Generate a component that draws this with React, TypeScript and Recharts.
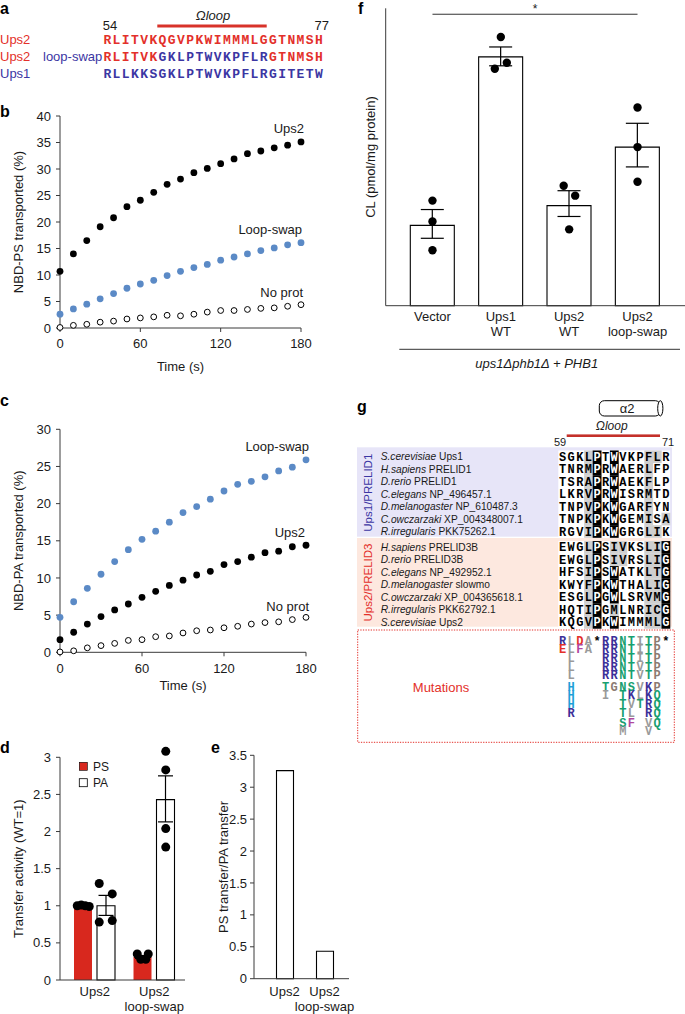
import React from 'react';
import {
  ScatterChart, Scatter, XAxis, YAxis, ComposedChart, BarChart, Bar, ErrorBar,
  ReferenceDot, ReferenceLine,
} from 'recharts';

// ---------------- data ----------------
const TIME = [0, 10, 20, 30, 40, 50, 60, 70, 80, 90, 100, 110, 120, 130, 140, 150, 160, 170, 180];
const PS_UPS2 = [10.7, 14.0, 16.5, 19.1, 20.8, 22.9, 24.1, 25.6, 27.1, 28.1, 29.3, 30.1, 31.0, 31.9, 32.9, 33.4, 34.0, 34.5, 35.1];
const PS_LOOP = [2.6, 3.6, 4.5, 5.5, 6.5, 7.5, 8.3, 9.0, 9.9, 10.7, 11.4, 12.0, 12.8, 13.4, 14.0, 14.6, 15.1, 15.7, 16.1];
const PS_NOPROT = [0.1, 0.5, 0.7, 1.1, 1.3, 1.7, 1.9, 2.1, 2.4, 2.3, 2.6, 3.0, 3.3, 3.3, 3.5, 3.7, 3.8, 4.1, 4.4];
const PA_LOOP = [4.7, 6.8, 8.6, 10.5, 12.2, 13.8, 15.2, 16.3, 17.5, 18.8, 19.6, 20.6, 21.7, 22.6, 23.0, 23.6, 24.4, 24.9, 25.9];
const PA_UPS2 = [1.7, 2.7, 3.8, 4.8, 5.7, 6.5, 7.4, 8.2, 9.0, 9.7, 10.4, 10.9, 11.8, 12.2, 12.8, 13.4, 13.6, 14.2, 14.4];
const PA_NOPROT = [0.05, 0.2, 0.6, 0.9, 1.2, 1.6, 1.7, 2.1, 2.2, 2.6, 2.9, 3.0, 3.3, 3.5, 3.8, 4.0, 4.1, 4.4, 4.7];
const B_TICKS_Y = [0, 5, 10, 15, 20, 25, 30, 35, 40];
const C_TICKS_Y = [0, 5, 10, 15, 20, 25, 30];
const TIME_TICKS = [0, 60, 120, 180];

const D_CATEGORIES = ['Ups2', 'Ups2\nloop-swap'];
const D_PS_MEAN = [1.0, 0.31];
const D_PA_MEAN = [1.0, 2.43];
const D_PS_ERR = [[0.01, 0.01], [0.02, 0.02]];
const D_PA_ERR = [[0.13, 0.14], [0.30, 0.32]];
const D_PS_REPS = [[1.0, 1.01, 1.0, 0.99], [0.35, 0.35, 0.28, 0.28]];
const D_PA_REPS = [[1.30, 1.16, 0.78, 0.80], [3.08, 2.83, 2.04, 1.79]];
const D_TICKS_Y = [0, 0.5, 1, 1.5, 2, 2.5, 3];

const E_CATEGORIES = ['Ups2', 'Ups2\nloop-swap'];
const E_RATIO = [3.26, 0.43];
const E_TICKS_Y = [0, 0.5, 1, 1.5, 2, 2.5, 3, 3.5];

const F_CATEGORIES = ['Vector', 'Ups1\nWT', 'Ups2\nWT', 'Ups2\nloop-swap'];
const F_MEAN = [0.81, 2.51, 1.01, 1.60];
const F_ERR = [[0.13, 0.16], [0.09, 0.10], [0.11, 0.15], [0.20, 0.24]];
const F_REPS = [[1.06, 0.85, 0.56], [2.71, 2.45, 2.39], [1.21, 1.11, 0.77], [2.00, 1.60, 1.25]];
const F_SIG_Y = 2.94;

const A_SEQS = ['RLITVKQGVPKWIMMMLGGTNMSH', 'RLITVKGKLPTWVKPFLRGTNMSH', 'RLLKKSGKLPTWVKPFLRGITETW'];
const A_SEQ_COLORS = ['RRRRRRRRRRRRRRRRRRRRRRRR', 'RRRRRRBBBBBBBBBBBBRRRRRR', 'BBBBBBBBBBBBBBBBBBBBBBBB'];

const G1_NAMES = [['S.cerevisiae', 'Ups1'], ['H.sapiens', 'PRELID1'], ['D.rerio', 'PRELID1'], ['C.elegans', 'NP_496457.1'], ['D.melanogaster', 'NP_610487.3'], ['C.owczarzaki', 'XP_004348007.1'], ['R.irregularis', 'PKK75262.1']];
const G1_SEQS = ['SGKLPTWVKPFLR', 'TNRMPRWAERLFP', 'TSRAPRWAEKFLP', 'LKRVPRWISRMTD', 'TNPVPKWGARFYN', 'TNPKPKWGEMISA', 'RGVIPKWGRGLIK'];
// shading: k = black, g = gray, . = none
const G1_SHADE = ['...gk.k...gg.', '...gk.k...g..', '...gk.k...g..', '...gk.k...g..', '...gk.k...g..', '...gk.k...g.g', '...gk.k...gg.'];
const G2_NAMES = [['H.sapiens', 'PRELID3B'], ['D.rerio', 'PRELID3B'], ['C.elegans', 'NP_492952.1'], ['D.melanogaster', 'slowmo'], ['C.owczarzaki', 'XP_004365618.1'], ['R.irregularis', 'PKK62792.1'], ['S.cerevisiae', 'Ups2']];
const G2_SEQS = ['EWGLPSIVKSLIG', 'EWGLPSIVRSLIG', 'HFSIPSWATKLTG', 'KWYFPKWTHALIG', 'ESGLPGWLSRVMG', 'HQTIPGMLNRICG', 'KQGVPKWIMMMLG'];
const G2_SHADE = ['...gk.gg..ggk', '...gk.gg..ggk', '...gk.k...ggk', '...gk.k...ggk', '...gk.k...ggk', '...gk.g...ggk', '...gk.k...ggk'];
const MUTATIONS = [
  'RLDA*RRNTITP*',
  'ELFA RRNTITP ',
  ' L   RRNTITP ',
  ' L   RRNTVTP ',
  ' L   RRNTVTP ',
  ' H   TGNSVKP ',
  ' H   I TKLKQ ',
  ' H     TVTRQ ',
  ' R     TL RQ ',
  '       SF VQ ',
  '       M  V  ',
];

// ---------------- styles ----------------
const FONT = '"Liberation Sans", Arial, Helvetica, sans-serif';
const MONO = '"Liberation Mono", "Courier New", monospace';
const RED = '#e3302a';
const BLUE = '#3b36a3';
const DOT_BLUE = '#5b8ac6';
const PS_RED = '#d8281e';
const AXIS = '#3a3a3a';
const TXT = '#1a1a1a';
const TICK = { fill: TXT, fontSize: 13, fontFamily: FONT };

const D_BAR = 18;
const D_GAP = 5;
const D_SHIFT = (D_BAR + D_GAP) / 2;
const D_PS_JITTER = [[-6, -2, 2, 6], [-5.5, 5.5, -2, 3]];
const D_PA_JITTER = [[-7, 6, -7, 6], [0, 0, 0, 0]];
const F_JITTER = [[0, 0, 0], [0, 6, -6], [-5.5, 6, 0], [0, 0, 0]];

const AA_COLOR: Record<string, string> = {
  R: '#3c2f98', K: '#3c2f98', D: '#e3302a', E: '#e3302a', F: '#b0479e',
  N: '#18a070', T: '#18a070', S: '#18a070', Q: '#18a070',
  L: '#9a9a9a', A: '#9a9a9a', I: '#9a9a9a', V: '#9a9a9a', M: '#9a9a9a',
  P: '#8c7b72', G: '#8c7b72', H: '#1e9fd8', '*': '#000',
};

const toPts = (arr: number[]) => TIME.map((t, i) => ({ t, v: arr[i] }));
const BlackDot = (p: any) => <circle cx={p.cx} cy={p.cy} r={3.4} fill="#000" />;
const BlueDot = (p: any) => <circle cx={p.cx} cy={p.cy} r={3.4} fill={DOT_BLUE} />;
const OpenDot = (p: any) => <circle cx={p.cx} cy={p.cy} r={2.9} fill="#fff" stroke="#000" strokeWidth={1} />;
const shifted = (dx: number, r: number) => (p: any) => <circle cx={p.cx + dx} cy={p.cy} r={r} fill="#000" />;

const CatTick = (props: any) => {
  const { x, y, payload } = props;
  const lines = String(payload.value).split('\n');
  return (
    <text x={x} y={y} textAnchor="middle" fill={TXT} fontSize={13} fontFamily={FONT}>
      {lines.map((l, i) => (
        <tspan key={i} x={x} dy={i === 0 ? '0.71em' : 15}>{l}</tspan>
      ))}
    </text>
  );
};

const yLabel = (value: string, offset: number) => ({
  value, angle: -90, position: 'insideLeft', offset,
  style: { textAnchor: 'middle', fill: TXT, fontSize: 13, fontFamily: FONT },
});

// ---------------- panels ----------------
function PanelB() {
  return (
    <div style={{ position: 'absolute', left: 0, top: 90 }}>
      <ScatterChart width={320} height={290} margin={{ top: 26, right: 19, left: 8, bottom: 0 }}>
        <XAxis type="number" dataKey="t" domain={[0, 180]} ticks={TIME_TICKS} height={52} stroke={AXIS}
          tickSize={4} tickMargin={7} tick={TICK} interval={0}
          label={{ value: 'Time (s)', position: 'insideBottom', offset: 9, style: { fill: TXT, fontSize: 13, fontFamily: FONT } }} />
        <YAxis type="number" dataKey="v" domain={[0, 40]} ticks={B_TICKS_Y} width={52} stroke={AXIS}
          tickSize={4} tickMargin={5} tick={TICK} interval={0} label={yLabel('NBD-PS transported (%)', 10) as any} />
        <Scatter data={toPts(PS_NOPROT)} shape={OpenDot} isAnimationActive={false} />
        <Scatter data={toPts(PS_LOOP)} shape={BlueDot} isAnimationActive={false} />
        <Scatter data={toPts(PS_UPS2)} shape={BlackDot} isAnimationActive={false} />
      </ScatterChart>
    </div>
  );
}

function PanelC() {
  return (
    <div style={{ position: 'absolute', left: 0, top: 400 }}>
      <ScatterChart width={325} height={300} margin={{ top: 29.3, right: 19, left: 8, bottom: 0 }}>
        <XAxis type="number" dataKey="t" domain={[0, 180]} ticks={TIME_TICKS} height={47.7} stroke={AXIS}
          tickSize={4} tickMargin={7} tick={TICK} interval={0}
          label={{ value: 'Time (s)', position: 'insideBottom', offset: 10.3, style: { fill: TXT, fontSize: 13, fontFamily: FONT } }} />
        <YAxis type="number" dataKey="v" domain={[0, 30]} ticks={C_TICKS_Y} width={52} stroke={AXIS}
          tickSize={4} tickMargin={5} tick={TICK} interval={0} label={yLabel('NBD-PA transported (%)', 10) as any} />
        <Scatter data={toPts(PA_NOPROT)} shape={OpenDot} isAnimationActive={false} />
        <Scatter data={toPts(PA_UPS2)} shape={BlackDot} isAnimationActive={false} />
        <Scatter data={toPts(PA_LOOP)} shape={BlueDot} isAnimationActive={false} />
      </ScatterChart>
    </div>
  );
}

function PanelD() {
  const data = D_CATEGORIES.map((c, i) => ({
    cat: c, ps: D_PS_MEAN[i], pa: D_PA_MEAN[i], psErr: D_PS_ERR[i], paErr: D_PA_ERR[i],
  }));
  return (
    <div style={{ position: 'absolute', left: 0, top: 730 }}>
      <ComposedChart width={200} height={284} data={data} margin={{ top: 27.3, right: 15, left: 8, bottom: 0 }}
        barSize={D_BAR} barGap={D_GAP}>
        <XAxis dataKey="cat" type="category" height={34} padding={{ left: 5, right: 1 }} stroke={AXIS}
          tickLine={false} tickSize={0} tickMargin={7} tick={<CatTick />} interval={0} />
        <YAxis type="number" domain={[0, 3]} ticks={D_TICKS_Y} width={52} stroke={AXIS}
          tickSize={4} tickMargin={5} tick={TICK} interval={0} label={yLabel('Transfer activity (WT=1)', 10) as any} />
        <Bar dataKey="ps" fill={PS_RED} isAnimationActive={false}>
          <ErrorBar dataKey="psErr" width={7.5} stroke="#000" strokeWidth={1.2} direction="y" />
        </Bar>
        <Bar dataKey="pa" fill="#fff" stroke="#000" strokeWidth={1.1} isAnimationActive={false}>
          <ErrorBar dataKey="paErr" width={7.5} stroke="#000" strokeWidth={1.2} direction="y" />
        </Bar>
        {D_CATEGORIES.flatMap((c, i) => D_PS_REPS[i].map((v, k) => (
          <ReferenceDot key={`ps-${i}-${k}`} x={c} y={v} r={4.5} ifOverflow="visible"
            shape={shifted(-D_SHIFT + D_PS_JITTER[i][k], 4.5)} />
        )))}
        {D_CATEGORIES.flatMap((c, i) => D_PA_REPS[i].map((v, k) => (
          <ReferenceDot key={`pa-${i}-${k}`} x={c} y={v} r={4.5} ifOverflow="visible"
            shape={shifted(D_SHIFT + D_PA_JITTER[i][k], 4.5)} />
        )))}
      </ComposedChart>
    </div>
  );
}

function PanelE() {
  const data = E_CATEGORIES.map((c, i) => ({ cat: c, ratio: E_RATIO[i] }));
  return (
    <div style={{ position: 'absolute', left: 200, top: 730 }}>
      <BarChart width={160} height={284} data={data} margin={{ top: 25.3, right: 11, left: 4, bottom: 0 }} barSize={17}>
        <XAxis dataKey="cat" type="category" height={35.3} padding={{ left: 10.5, right: 4.5 }} stroke={AXIS}
          tickLine={false} tickSize={0} tickMargin={8} tick={<CatTick />} interval={0} />
        <YAxis type="number" domain={[0, 3.5]} ticks={E_TICKS_Y} width={50} stroke={AXIS}
          tickSize={4} tickMargin={3} tick={TICK} interval={0} label={yLabel('PS transfer/PA transfer', 19) as any} />
        <Bar dataKey="ratio" fill="#fff" stroke="#000" strokeWidth={1.1} isAnimationActive={false} />
      </BarChart>
    </div>
  );
}

function PanelF() {
  const data = F_CATEGORIES.map((c, i) => ({ cat: c, mean: F_MEAN[i], err: F_ERR[i] }));
  return (
    <div style={{ position: 'absolute', left: 340, top: 0 }}>
      <ComposedChart width={345} height={345} data={data} margin={{ top: 8.3, right: 0, left: 6, bottom: 0 }} barSize={44}>
        <XAxis dataKey="cat" type="category" height={39.3} padding={{ left: 12.6, right: 13.3 }} stroke={AXIS}
          tickLine={false} tickSize={0} tickMargin={6} tick={<CatTick />} interval={0} />
        <YAxis type="number" domain={[0, 3]} ticks={[0, 1, 2, 3]} width={39.7} stroke={AXIS}
          tickSize={4} tick={false} tickLine={{ stroke: AXIS }} label={yLabel('CL (pmol/mg protein)', 24) as any} />
        <Bar dataKey="mean" fill="#fff" stroke="#000" strokeWidth={1.1} isAnimationActive={false}>
          <ErrorBar dataKey="err" width={11.5} stroke="#000" strokeWidth={1.2} direction="y" />
        </Bar>
        {F_CATEGORIES.flatMap((c, i) => F_REPS[i].map((v, k) => (
          <ReferenceDot key={`f-${i}-${k}`} x={c} y={v} r={4.2} ifOverflow="visible"
            shape={shifted(F_JITTER[i][k], 4.2)} />
        )))}
        <ReferenceLine segment={[{ x: F_CATEGORIES[0], y: F_SIG_Y }, { x: F_CATEGORIES[3], y: F_SIG_Y }]}
          stroke="#333" strokeWidth={1} ifOverflow="visible"
          label={{ value: '*', position: 'top', offset: 1, style: { fill: TXT, fontSize: 12, fontFamily: FONT } }} />
      </ComposedChart>
    </div>
  );
}

// ---------------- static annotation overlay (panels a, g, labels) ----------------
function Overlay() {
  const A_X0 = 102.7, A_P = 9.2;
  const A_BASE = [43.5, 60.5, 77.5];
  const G_X0 = 558.3, G_P = 8.6, G_H = 12.45;
  const G1_Y = [456.7, 469.2, 481.6, 494.1, 506.5, 519.0, 531.4];
  const G2_Y = [547.3, 559.8, 572.3, 584.8, 597.3, 609.8, 622.3];
  const M_Y = [640.5, 649.3, 657.9, 666.5, 675.2, 686.4, 695.0, 703.4, 713.2, 722.4, 731.0];

  const alignBlock = (names: string[][], seqs: string[], shades: string[], ys: number[], prefix: string) => (
    <g key={prefix}>
      <rect x={G_X0} y={ys[0] - G_H / 2} width={G_P * 13} height={G_H * 7} fill="#fff" />
      {seqs.map((s, r) => (
        <g key={`${prefix}${r}`}>
          {s.split('').map((ch, j) => {
            const sh = shades[r][j];
            const x = G_X0 + G_P * j;
            return (
              <g key={j}>
                {sh !== '.' && (
                  <rect x={x} y={ys[r] - G_H / 2} width={G_P + 0.2} height={G_H + 0.2}
                    fill={sh === 'k' ? '#000' : '#cfcfcf'} />
                )}
                <text x={x + G_P / 2} y={ys[r] + 4.1} textAnchor="middle" fontFamily={MONO} fontWeight="bold"
                  fontSize={12} fill={sh === 'k' ? '#fff' : '#000'}>{ch}</text>
              </g>
            );
          })}
          <text x={380.7} y={ys[r] + 3.6} fontSize={10.2} fill={TXT}>
            <tspan fontStyle="italic">{names[r][0]}</tspan>
            <tspan> {names[r][1]}</tspan>
          </text>
        </g>
      ))}
    </g>
  );

  return (
    <svg width={685} height={1014} style={{ position: 'absolute', left: 0, top: 0, pointerEvents: 'none' }}
      fontFamily={FONT}>
      {/* panel letters */}
      <g fontSize={16} fontWeight="bold" fill="#000">
        <text x={0} y={14}>a</text>
        <text x={0} y={117}>b</text>
        <text x={0} y={406}>c</text>
        <text x={0} y={753}>d</text>
        <text x={211} y={753}>e</text>
        <text x={358} y={14}>f</text>
        <text x={357} y={412}>g</text>
      </g>

      {/* panel a */}
      <text x={213} y={19.5} textAnchor="middle" fontSize={13} fontStyle="italic" fill={TXT}>Ωloop</text>
      <rect x={157.3} y={24.5} width={109.4} height={3} fill="#d8322a" />
      <text x={110} y={29.5} textAnchor="middle" fontSize={13} fill={TXT}>54</text>
      <text x={321.7} y={29.5} textAnchor="middle" fontSize={13} fill={TXT}>77</text>
      <text x={0} y={A_BASE[0]} fontSize={13} fill={RED}>Ups2</text>
      <text x={0} y={A_BASE[1]} fontSize={13} fill={RED}>Ups2</text>
      <text x={43} y={A_BASE[1]} fontSize={13} fill={BLUE}>loop-swap</text>
      <text x={0} y={A_BASE[2]} fontSize={13} fill={BLUE}>Ups1</text>
      {A_SEQS.map((s, r) => s.split('').map((ch, j) => (
        <text key={`a${r}-${j}`} x={A_X0 + A_P * j + A_P / 2} y={A_BASE[r]} textAnchor="middle"
          fontFamily={MONO} fontWeight="bold" fontSize={13}
          fill={A_SEQ_COLORS[r][j] === 'R' ? RED : BLUE}>{ch}</text>
      )))}

      {/* series labels b, c */}
      <g fontSize={13} fill={TXT} textAnchor="end">
        <text x={304} y={132.6}>Ups2</text>
        <text x={302} y={233.6}>Loop-swap</text>
        <text x={303} y={296.6}>No prot</text>
        <text x={309} y={450.6}>Loop-swap</text>
        <text x={305} y={537.3}>Ups2</text>
        <text x={309} y={610.6}>No prot</text>
      </g>

      {/* legend d */}
      <rect x={79.3} y={762.3} width={8} height={8} fill={PS_RED} stroke="#000" strokeWidth={0.6} />
      <rect x={79.3} y={778.7} width={8} height={8} fill="#fff" stroke="#000" strokeWidth={0.8} />
      <text x={93} y={770.6} fontSize={12} fill={TXT}>PS</text>
      <text x={93} y={787} fontSize={12} fill={TXT}>PA</text>

      {/* panel f strain */}
      <line x1={399.3} x2={680} y1={349.3} y2={349.3} stroke="#333" strokeWidth={1} />
      <text x={536.7} y={368} textAnchor="middle" fontSize={13} fontStyle="italic" fill={TXT}>ups1Δphb1Δ + PHB1</text>

      {/* panel g header */}
      <rect x={599.3} y={400.7} width={61} height={15.3} rx={5} fill="#fff" stroke="#000" strokeWidth={1} />
      <ellipse cx={660.3} cy={408.35} rx={2.6} ry={7.65} fill="#fff" stroke="#000" strokeWidth={1} />
      <text x={627} y={412.8} textAnchor="middle" fontSize={13} fill={TXT}>α2</text>
      <text x={611.7} y={430} textAnchor="middle" fontSize={12} fontStyle="italic" fill={TXT}>Ωloop</text>
      <rect x={566.7} y={434.4} width={93.3} height={2.6} fill="#c4302a" />
      <text x={560} y={445.5} textAnchor="middle" fontSize={11} fill={TXT}>59</text>
      <text x={668} y={445.5} textAnchor="middle" fontSize={11} fill={TXT}>71</text>

      {/* group backgrounds */}
      <rect x={357} y={447.3} width={315} height={89.4} fill="#e7e5f8" />
      <rect x={357} y={538} width={315} height={88.7} fill="#fde8df" />
      <text transform="translate(371.5,492.7) rotate(-90)" textAnchor="middle" fontSize={11.5} fill={BLUE}>Ups1/PRELID1</text>
      <text transform="translate(371.5,582.5) rotate(-90)" textAnchor="middle" fontSize={11.5} fill={RED}>Ups2/PRELID3</text>
      {alignBlock(G1_NAMES, G1_SEQS, G1_SHADE, G1_Y, 'g1')}
      {alignBlock(G2_NAMES, G2_SEQS, G2_SHADE, G2_Y, 'g2')}

      {/* mutations */}
      <rect x={357.7} y={630} width={316.6} height={112.3} fill="none" stroke={RED} strokeWidth={1}
        strokeDasharray="1.3 1.3" />
      <text x={441} y={691.6} textAnchor="middle" fontSize={13} fill={RED}>Mutations</text>
      {MUTATIONS.map((row, r) => row.split('').map((ch, j) => ch === ' ' ? null : (
        <text key={`m${r}-${j}`} x={G_X0 + G_P * j + G_P / 2} y={M_Y[r] + 4.1} textAnchor="middle"
          fontFamily={MONO} fontWeight="bold" fontSize={12} fill={AA_COLOR[ch] || '#000'}>{ch}</text>
      )))}
    </svg>
  );
}

export default function App() {
  return (
    <div style={{ position: 'absolute', left: 0, top: 0, width: 685, height: 1014, background: '#fff', fontFamily: FONT, overflow: 'hidden' }}>
      <PanelB />
      <PanelC />
      <PanelD />
      <PanelE />
      <PanelF />
      <Overlay />
    </div>
  );
}
